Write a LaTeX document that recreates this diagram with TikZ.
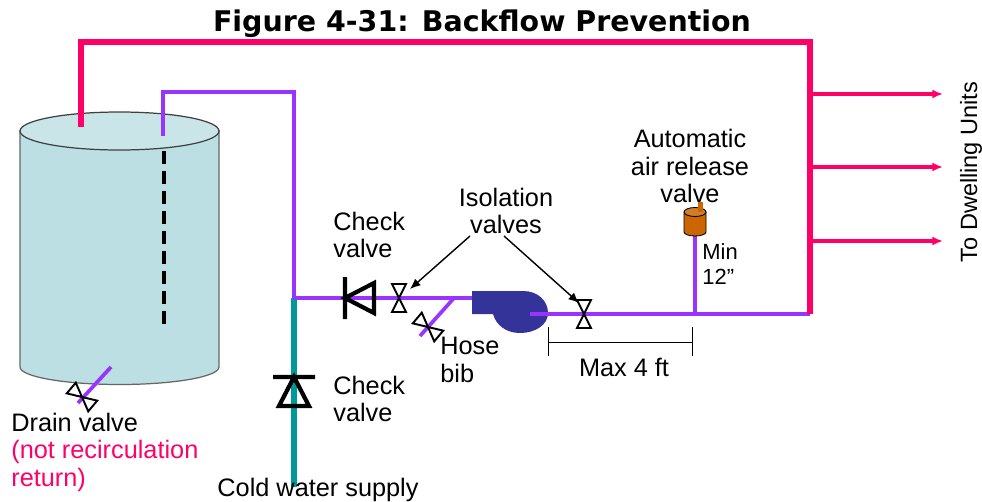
\documentclass[tikz,border=0pt]{standalone}
\usepackage{fontspec}
\setmainfont{Liberation Sans}
\newfontfamily\titlefont{DejaVu Sans}
\usetikzlibrary{arrows.meta}
\definecolor{hotpipe}{HTML}{FF0066}
\definecolor{recirc}{HTML}{9933FF}
\definecolor{coldpipe}{HTML}{009999}
\definecolor{tankside}{HTML}{BBDFE3}
\definecolor{tanktop}{HTML}{C9E5E8}
\definecolor{pumpblue}{HTML}{333399}
\definecolor{airbody}{HTML}{CC6600}
\tikzset{
	hot/.style={draw=hotpipe,line width=3.2pt},
	ret/.style={draw=recirc,line width=2.8pt},
	thinret/.style={draw=recirc,line width=2.1pt},
	label/.style={font=\fontsize{14.4}{15.6}\selectfont,align=left,inner sep=0pt},
	bowtie/.pic={\draw[line width=1.1pt] (-7,-14)--(7,-14)--(-7,14)--(7,14)--cycle;},
	checkv/.pic={\draw[line width=2.4pt] (-21,0)--(21,0) (0,0)--(-15,29)--(15,29)--cycle;}
}
\begin{document}
\begin{tikzpicture}[x=0.02cm,y=-0.02cm]
	\useasboundingbox (0,0) rectangle (982,501);
	% tank
	\fill[tankside] (20,130)--(20,367) arc (180:0:99.5 and 17.5)--(219,130)--cycle;
	\draw[black!60,line width=0.7pt] (20,130)--(20,367) arc (180:0:99.5 and 17.5)--(219,130);
	\draw[fill=tanktop,draw=black!75,line width=0.7pt] (119.5,131) ellipse (99.5 and 19);
	% pipe ends
	\coordinate (hotin) at (81,127);
	\coordinate (hotcorner) at (81,42);
	\coordinate (hotdrop) at (810,42);
	\coordinate (hottee) at (810,314);
	\coordinate (retin) at (163,136);
	\coordinate (retup) at (163,92);
	\coordinate (retover) at (294,92);
	\coordinate (retjoin) at (294,298);
	\coordinate (pumpin) at (472,298);
	\coordinate (pumpout) at (530,314);
	\coordinate (coldend) at (294,487);
	\coordinate (riser) at (695,314);
	\coordinate (airvalve) at (695,236);
	\coordinate (hosetee) at (454,298);
	\coordinate (hoseend) at (420,336);
	\coordinate (draintop) at (111,367);
	\coordinate (drainend) at (78,403);
	% dip tube
	\draw[line width=2.3pt,dash pattern=on 7.4pt off 4pt] (164,151)--(164,325);
	% pipes
	\draw[coldpipe,line width=3.2pt] (retjoin)--(coldend);
	\draw[ret] (retin)--(retup)--(retover)--(retjoin);
	\draw[thinret] (retjoin)--(pumpin);
	\draw[thinret] (riser)--(airvalve);
	\draw[thinret] (hosetee)--(hoseend);
	\draw[thinret] (draintop)--(drainend);
	\draw[hot] (hotin)--(hotcorner)--(hotdrop)--(hottee);
	\foreach \y/\n in {94/a,167/b,241/c}{
		\coordinate (tap\n) at (810,\y);
		\coordinate (out\n) at (943,\y);
		\draw[draw=hotpipe,line width=1.9pt,-{Latex[length=6pt,width=5pt]}] (tap\n)--(out\n);
	}
	% pump
	\fill[pumpblue] (472,291)--(523,291) .. controls (538,291) and (548,301) .. (548,313)
		.. controls (548,325) and (535,333) .. (520,333)
		.. controls (506,333) and (496,325) .. (493,314)--(472,314)--cycle;
	\draw[thinret] (pumpout)--(hottee);
	\draw[hot] (hotdrop)--(hottee);
	% air valve
	\draw[fill=airbody,draw=black,line width=0.5pt] (684,212)--(684,232) arc (180:0:11 and 4)--(706,212);
	\draw[fill=airbody!85!white,draw=black,line width=0.5pt] (695,212) ellipse (11 and 4.5);
	\fill[airbody] (698,202) rectangle (703,212);
	% valves
	\pic at (399,298) {bowtie};
	\pic at (584,314) {bowtie};
	\pic[rotate=50] at (428,327) {bowtie};
	\pic[rotate=50] at (82,397) {bowtie};
	\pic[rotate=90] at (345,298) {checkv};
	\pic at (294,377) {checkv};
	% dimension
	\coordinate (dimleft) at (548,342);
	\coordinate (dimright) at (692,342);
	\draw[line width=0.5pt] (548,327)--(548,356) (692,327)--(692,356) (dimleft)--(dimright);
	% labels
	\node[font=\titlefont\fontsize{16.2}{20}\selectfont\bfseries,inner sep=0pt] (title) at (482,24) {Figure 4-31: Backflow Prevention};
	\node[label,anchor=west] (checktop) at (333,235) {Check\\valve};
	\node[label,anchor=west] (checkbot) at (333,399) {Check\\valve};
	\node[label,align=center] (iso) at (506,211) {Isolation\\valves};
	\node[label,align=center] (air) at (690,166) {Automatic\\air release\\valve};
	\node[label,anchor=west,font=\fontsize{12.5}{14.5}\selectfont] (minrise) at (702,264) {Min\\12”};
	\node[label,anchor=west] (hose) at (440,360) {Hose\\bib};
	\node[label] (maxrun) at (624,367) {Max 4 ft};
	\node[label,anchor=west] (drain) at (11,422) {Drain valve};
	\node[label,anchor=west,text=hotpipe] (notrec) at (11,466) {(not recirculation\\return)};
	\node[label] (cold) at (318,490) {Cold water supply};
	\node[label,rotate=90,font=\fontsize{13.4}{15.6}\selectfont] (dwell) at (971,172) {To Dwelling Units};
	% leaders
	\coordinate (isoleft) at (470,236);
	\coordinate (isoright) at (504,236);
	\coordinate (isoa) at (410,289);
	\coordinate (isob) at (579,303);
	\draw[line width=0.8pt,-{Latex[length=6pt,width=5pt]}] (isoleft)--(isoa);
	\draw[line width=0.8pt,-{Latex[length=6pt,width=5pt]}] (isoright)--(isob);
\end{tikzpicture}
\end{document}
